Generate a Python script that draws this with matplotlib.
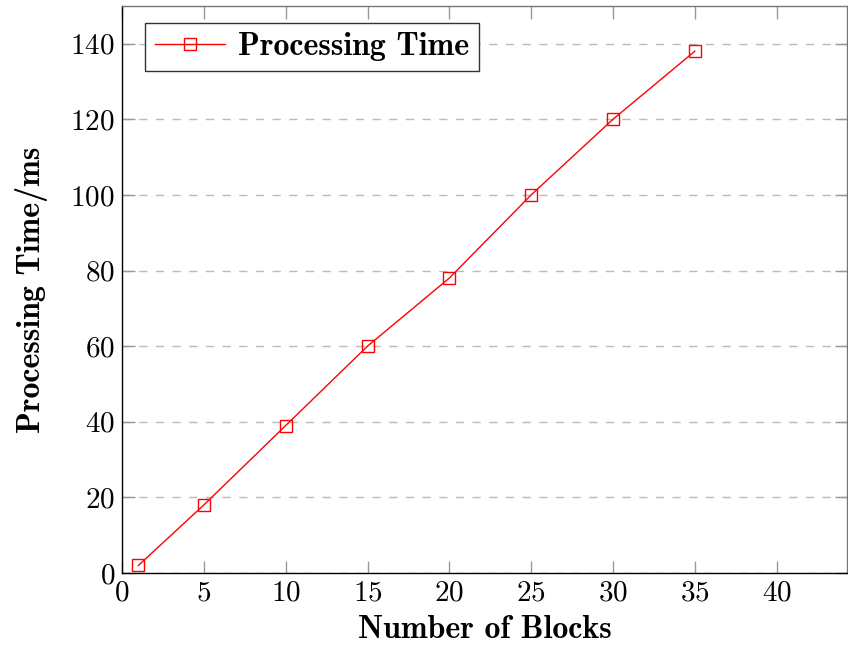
import matplotlib.pyplot as plt

# Processing time measured for different block counts
blocks = [1, 5, 10, 15, 20, 25, 30, 35]
times_ms = [2, 18, 39, 60, 78, 100, 120, 138]
x_ticks = [0, 5, 10, 15, 20, 25, 30, 35, 40]
y_ticks = [0, 20, 40, 60, 80, 100, 120, 140]

plt.rcParams['font.family'] = 'cmr10'
plt.rcParams['axes.formatter.use_mathtext'] = True

fig = plt.figure(figsize=(8.48, 6.46), dpi=100)
ax = fig.add_axes([0.1439, 0.113, 0.855, 0.878])

ax.plot(blocks, times_ms, color='red', lw=1.0, marker='s', markersize=9,
        markerfacecolor='none', markeredgecolor='red', markeredgewidth=1.0,
        label='Processing Time')

ax.set_xlim(0, 44.3)
ax.set_ylim(0, 150)
ax.set_xticks(x_ticks)
ax.set_yticks(y_ticks)
ax.tick_params(direction='in', length=9, width=1.0, color='#999999',
               labelsize=21, top=True, right=True, pad=5)
ax.yaxis.grid(True, linestyle=(0, (6, 6)), color='#bbbbbb', lw=1.0)
ax.set_axisbelow(True)

for side in ('left', 'bottom'):
    ax.spines[side].set_color('black')
    ax.spines[side].set_linewidth(1.0)
for side in ('top', 'right'):
    ax.spines[side].set_color('#777777')
    ax.spines[side].set_linewidth(1.0)

ax.set_xlabel('Number of Blocks', fontfamily='cmb10', fontsize=23, labelpad=6)
ax.set_ylabel('Processing Time/ms', fontfamily='cmb10', fontsize=23, labelpad=16)

leg = ax.legend(loc='upper left', prop={'family': 'cmb10', 'size': 23},
                fancybox=False, edgecolor='#333333', framealpha=1,
                handlelength=2.2, handletextpad=0.4, borderpad=0.3,
                borderaxespad=0, bbox_to_anchor=(0.032, 0.97))
leg.get_frame().set_linewidth(1.0)

fig.savefig('out.png', dpi=100)
